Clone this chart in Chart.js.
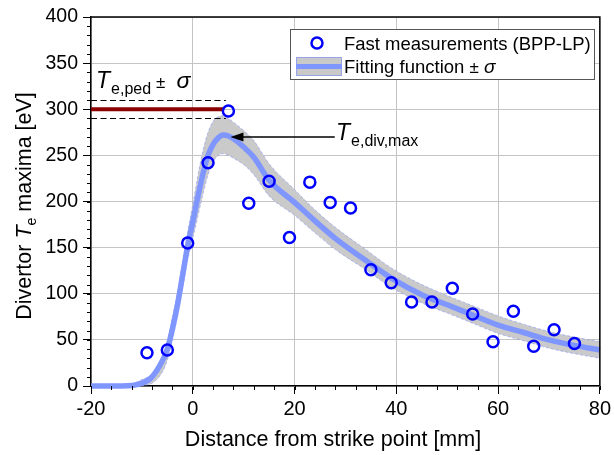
<!DOCTYPE html>
<html><head><meta charset="utf-8">
<script src="https://cdn.jsdelivr.net/npm/chart.js@4.4.0/dist/chart.umd.min.js"></script>
<style>html,body{margin:0;padding:0;background:#fff;}#wrap{width:614px;height:455px;}</style>
</head><body><div id="wrap"><canvas id="c" width="614" height="455"></canvas></div>
<script>
// ---- data ----
const measX = [-9,-5,-1,3,7,11,15,19,23,27,31,35,39,43,47,51,55,59,63,67,71,75];
const measY = [36,39,155,242,298,198,222,161,221,199,193,126,112,91,91,106,78,48,81,43,61,46];
const fitX   = [-20,-14,-12,-10,-8,-6,-5,-4,-3,-2,-1,0,1,2,3,4,5,6,7,8,10,12,15,20,24,28,34,39,45,50,55,60,65,70,75,80];
const fitY   = [0,0,0.5,3,10,27,40,62,88,120,152,178,205,230,250,262,269,272,271,268,259,248,223,199,179,160,136,117,99,88,77,66,58,50,44,39];
const fitUp  = [0,0.5,2,7,13,32,48,74,102,134,167,197,228,255,275,287,292,293,290,286,277,266,241,213,191,172,148,128,110,98,87,76,67,59,53,48];
const fitLo  = [0,0,0,0.5,3,15,28,50,76,106,137,160,184,208,229,243,250,252,250,247,240,229,206,185,166,148,126,107,90,79,68,57,49,41,35,30];
const xTicks = [-20,0,20,40,60,80];
const yTicks = [0,50,100,150,200,250,300,350,400];
const pedT = 300, pedSigma = 10, pedXEnd = 6.5;
const peakArrow = {tipX: 7.4, tipY: 270, tailX: 27.9};

const FF = '"Liberation Sans", Arial, Helvetica, sans-serif';
const pts = (xs, ys) => xs.map((x, i) => ({x, y: ys[i]}));

function drawRich(ctx, x, y, segs) {
  let cx = x;
  for (const s of segs) {
    ctx.font = (s.italic ? 'italic ' : '') + s.size + 'px ' + FF;
    cx += (s.pre || 0);
    ctx.fillText(s.t, cx, y + (s.dy || 0));
    cx += ctx.measureText(s.t).width;
  }
  return cx - x;
}
function richWidth(ctx, segs) {
  let w = 0;
  for (const s of segs) {
    ctx.font = (s.italic ? 'italic ' : '') + s.size + 'px ' + FF;
    w += (s.pre || 0) + ctx.measureText(s.t).width;
  }
  return w;
}

const extras = {
  id: 'extras',
  afterDatasetDraw(chart, args) {
    if (args.index !== 1) return;
    const ctx = chart.ctx, xs = chart.scales.x, ys = chart.scales.y;
    ctx.save();
    const x0 = xs.getPixelForValue(-20), x1 = xs.getPixelForValue(pedXEnd);
    ctx.strokeStyle = '#000'; ctx.lineWidth = 1; ctx.setLineDash([6, 3.5]);
    [pedT + pedSigma, pedT - pedSigma].forEach(v => {
      const y = Math.round(ys.getPixelForValue(v)) + 0.5;
      ctx.beginPath(); ctx.moveTo(x0, y); ctx.lineTo(x1, y); ctx.stroke();
    });
    ctx.setLineDash([]);
    ctx.strokeStyle = '#8b0000'; ctx.lineWidth = 4;
    const yp = ys.getPixelForValue(pedT);
    ctx.beginPath(); ctx.moveTo(x0, yp); ctx.lineTo(x1 - 2, yp); ctx.stroke();
    const ay = ys.getPixelForValue(peakArrow.tipY);
    const tx = xs.getPixelForValue(peakArrow.tipX), tl = xs.getPixelForValue(peakArrow.tailX);
    ctx.strokeStyle = '#000'; ctx.fillStyle = '#000'; ctx.lineWidth = 1.5;
    ctx.beginPath(); ctx.moveTo(tl, ay); ctx.lineTo(tx + 8, ay); ctx.stroke();
    ctx.beginPath(); ctx.moveTo(tx, ay); ctx.lineTo(tx + 13, ay - 4.5); ctx.lineTo(tx + 13, ay + 4.5); ctx.closePath(); ctx.fill();
    ctx.restore();
  },
  afterDraw(chart) {
    const ctx = chart.ctx, xs = chart.scales.x, ys = chart.scales.y, a = chart.chartArea;
    ctx.save();
    ctx.strokeStyle = '#000'; ctx.lineWidth = 1.5;
    ctx.beginPath(); ctx.moveTo(a.left, a.top); ctx.lineTo(a.right, a.top); ctx.lineTo(a.right, a.bottom); ctx.stroke();
    ctx.lineWidth = 1;
    for (let v = -20; v <= 80; v += 4) {
      const px = Math.round(xs.getPixelForValue(v)) + 0.5;
      ctx.beginPath(); ctx.moveTo(px, a.bottom); ctx.lineTo(px, a.bottom + 4); ctx.stroke();
    }
    for (let v = 0; v <= 400; v += 10) {
      const py = Math.round(ys.getPixelForValue(v)) + 0.5;
      ctx.beginPath(); ctx.moveTo(a.left - 4, py); ctx.lineTo(a.left, py); ctx.stroke();
    }
    ctx.fillStyle = '#000'; ctx.textBaseline = 'alphabetic'; ctx.textAlign = 'left';
    drawRich(ctx, 96, 88, [
      {t: 'T', size: 23, italic: true},
      {t: 'e,ped', size: 16, dy: 6, pre: 1},
      {t: '±', size: 17, pre: 5},
      {t: 'σ', size: 23, italic: true, pre: 11}
    ]);
    drawRich(ctx, 336, 140, [
      {t: 'T', size: 23, italic: true},
      {t: 'e,div,max', size: 16, dy: 6, pre: 1}
    ]);
    // legend
    ctx.fillStyle = '#fff'; ctx.strokeStyle = '#555'; ctx.lineWidth = 1;
    ctx.fillRect(290.5, 29.5, 304, 50); ctx.strokeRect(290.5, 29.5, 304, 50);
    ctx.strokeStyle = '#0000ff'; ctx.lineWidth = 2.5;
    ctx.beginPath(); ctx.arc(317, 43, 5.5, 0, Math.PI * 2); ctx.stroke();
    ctx.fillStyle = '#c9c9c9'; ctx.fillRect(296, 57, 46, 19);
    ctx.strokeStyle = 'rgba(120,140,255,0.6)'; ctx.lineWidth = 1; ctx.strokeRect(296.5, 57.5, 45, 18);
    ctx.strokeStyle = '#8096ff'; ctx.lineWidth = 5;
    ctx.beginPath(); ctx.moveTo(296, 66.5); ctx.lineTo(342, 66.5); ctx.stroke();
    ctx.fillStyle = '#000';
    ctx.font = '18.5px ' + FF;
    ctx.fillText('Fast measurements (BPP-LP)', 344, 49.5);
    drawRich(ctx, 344, 73, [
      {t: 'Fitting function ', size: 18.5},
      {t: '±', size: 17},
      {t: ' σ', size: 19, italic: true}
    ]);
    // axis titles
    const xt = [{t: 'Distance from strike point [mm]', size: 21.5}];
    const wx = richWidth(ctx, xt);
    drawRich(ctx, 333 - wx / 2, 446, xt);
    const yt = [
      {t: 'Divertor ', size: 21.5},
      {t: 'T', size: 21.5, italic: true},
      {t: 'e', size: 14, dy: 5},
      {t: ' maxima [eV]', size: 21.5}
    ];
    const wy = richWidth(ctx, yt);
    ctx.translate(31, 206); ctx.rotate(-Math.PI / 2);
    drawRich(ctx, -wy / 2, 0, yt);
    ctx.restore();
  }
};

new Chart(document.getElementById('c'), {
  type: 'scatter',
  data: {
    datasets: [
      {label: 'Fast measurements (BPP-LP)', data: pts(measX, measY), order: 0,
       pointStyle: 'circle', pointRadius: 5.5, pointHoverRadius: 5.5, pointBorderWidth: 2.5,
       pointBorderColor: '#0000ff', pointBackgroundColor: 'rgba(0,0,0,0)', showLine: false},
      {label: 'Fitting function', data: pts(fitX, fitY), order: 1, showLine: true,
       borderColor: '#8096ff', borderWidth: 5.5, pointRadius: 0, cubicInterpolationMode: 'monotone',
       clip: 8, fill: false},
      {label: 'upper', data: pts(fitX, fitUp), order: 3, showLine: true,
       borderColor: 'rgba(120,140,255,0.5)', borderWidth: 1, borderDash: [3, 2], pointRadius: 0,
       cubicInterpolationMode: 'monotone', fill: 3, backgroundColor: '#cacaca'},
      {label: 'lower', data: pts(fitX, fitLo), order: 2, showLine: true,
       borderColor: 'rgba(120,140,255,0.5)', borderWidth: 1, borderDash: [3, 2], pointRadius: 0,
       cubicInterpolationMode: 'monotone', fill: false}
    ]
  },
  options: {
    responsive: false, animation: false, devicePixelRatio: 1,
    layout: {padding: {top: 17, right: 11, left: 0, bottom: 0}},
    plugins: {legend: {display: false}, tooltip: {enabled: false}},
    scales: {
      x: {type: 'linear', min: -20, max: 80,
          afterBuildTicks: s => { s.ticks = xTicks.map(v => ({value: v})); },
          afterFit: s => { s.height = 69; },
          grid: {color: '#c4c4c4', lineWidth: 1, tickColor: '#000', tickLength: 8, drawTicks: true},
          border: {color: '#000', width: 1.5},
          ticks: {color: '#000', font: {family: FF, size: 20}, padding: 3, maxRotation: 0}},
      y: {type: 'linear', min: 0, max: 400,
          afterBuildTicks: s => { s.ticks = yTicks.map(v => ({value: v})); },
          afterFit: s => { s.width = 91; },
          grid: {color: '#c4c4c4', lineWidth: 1, tickColor: '#000', tickLength: 8, drawTicks: true},
          border: {color: '#000', width: 1.5},
          ticks: {color: '#000', font: {family: FF, size: 19.5}, padding: 5}}
    }
  },
  plugins: [extras]
});
</script></body></html>
